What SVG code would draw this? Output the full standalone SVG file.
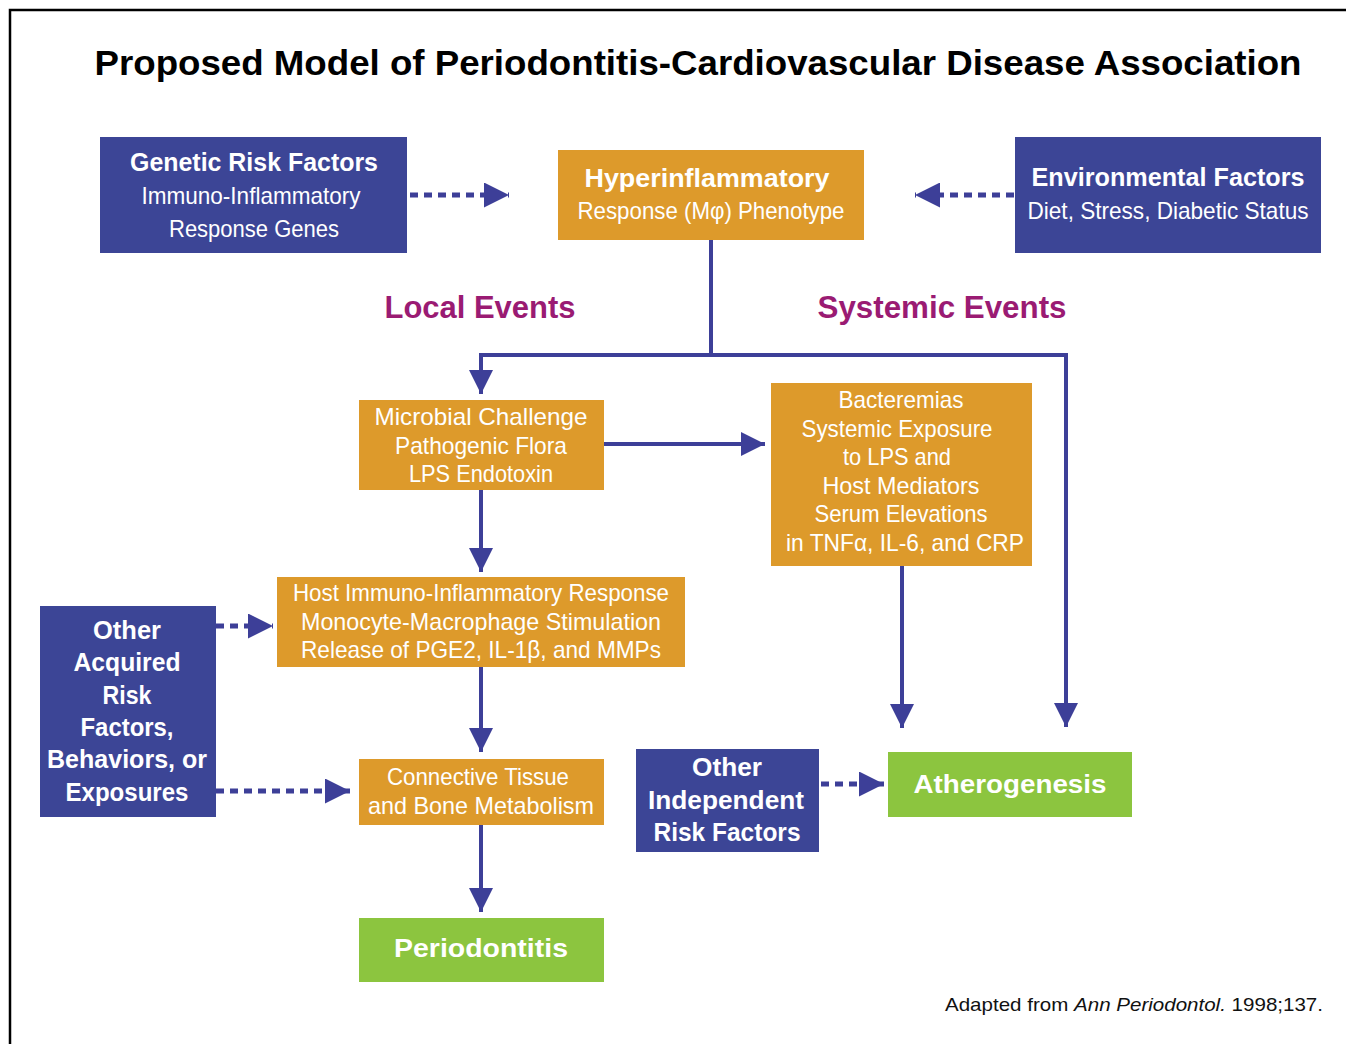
<svg xmlns="http://www.w3.org/2000/svg" width="1346" height="1044" viewBox="0 0 1346 1044">
<style>
.blue{fill:#3c4596}
.orange{fill:#dd9a2b}
.green{fill:#8cc53f}
text{font-family:"Liberation Sans",Arial,sans-serif;fill:#fff;text-anchor:middle}
.b{font-weight:bold}
.t{font-size:24px}
.h{font-size:25px;font-weight:bold}
.ev{fill:#9a1b73;font-size:31px;font-weight:bold}
.ln{stroke:#3d3f98;stroke-width:4;fill:none}
.ds{stroke:#3d3f98;stroke-width:5;fill:none;stroke-dasharray:8 6}
</style>
<defs>
<marker id="ah" viewBox="0 0 10 10" refX="10" refY="5" markerWidth="6" markerHeight="6" markerUnits="strokeWidth" orient="auto">
<path d="M0,0 L10,5 L0,10 Z" fill="#3d3f98"/>
</marker>
<marker id="ahd" viewBox="0 0 10 10" refX="10" refY="5" markerWidth="5" markerHeight="5" markerUnits="strokeWidth" orient="auto">
<path d="M0,0 L10,5 L0,10 Z" fill="#3d3f98"/>
</marker>
</defs>
<rect x="10" y="10" width="1350" height="1050" fill="#fff" stroke="#000" stroke-width="2.5"/>
<text x="698" y="75" style="fill:#000;font-size:35px;font-weight:bold" textLength="1207" lengthAdjust="spacingAndGlyphs">Proposed Model of Periodontitis-Cardiovascular Disease Association</text>
<text class="ev" x="480" y="318" textLength="191" lengthAdjust="spacingAndGlyphs">Local Events</text>
<text class="ev" x="942" y="318" textLength="249" lengthAdjust="spacingAndGlyphs">Systemic Events</text>

<g id="connectors">
<path class="ds" d="M410,195 H509" marker-end="url(#ahd)"/>
<path class="ds" d="M1014,195 H915" marker-end="url(#ahd)"/>
<path class="ln" d="M711,240 V355"/>
<path class="ln" d="M479,355 H1066"/>
<path class="ln" d="M481,355 V394" marker-end="url(#ah)"/>
<path class="ln" d="M1066,353 V727" marker-end="url(#ah)"/>
<path class="ln" d="M604,444 H765" marker-end="url(#ah)"/>
<path class="ln" d="M481,490 V572" marker-end="url(#ah)"/>
<path class="ln" d="M481,667 V752" marker-end="url(#ah)"/>
<path class="ln" d="M481,825 V912" marker-end="url(#ah)"/>
<path class="ln" d="M902,566 V728" marker-end="url(#ah)"/>
<path class="ds" d="M216,626 H273" marker-end="url(#ahd)"/>
<path class="ds" d="M216,791 H350" marker-end="url(#ahd)"/>
<path class="ds" d="M821,784 H884" marker-end="url(#ahd)"/>
</g>

<g id="genetic">
<rect class="blue" x="100" y="137" width="307" height="116"/>
<text class="h" x="254" y="171" textLength="248" lengthAdjust="spacingAndGlyphs">Genetic Risk Factors</text>
<text class="t" x="251" y="204" textLength="219" lengthAdjust="spacingAndGlyphs">Immuno-Inflammatory</text>
<text class="t" x="254" y="237" textLength="170" lengthAdjust="spacingAndGlyphs">Response Genes</text>
</g>
<g id="hyper">
<rect class="orange" x="558" y="150" width="306" height="90"/>
<text class="h" x="707" y="187" textLength="245" lengthAdjust="spacingAndGlyphs">Hyperinflammatory</text>
<text class="t" x="711" y="219" textLength="267" lengthAdjust="spacingAndGlyphs">Response (Mφ) Phenotype</text>
</g>
<g id="environmental">
<rect class="blue" x="1015" y="137" width="306" height="116"/>
<text class="h" x="1168" y="186" textLength="273" lengthAdjust="spacingAndGlyphs">Environmental Factors</text>
<text class="t" x="1168" y="219" textLength="281" lengthAdjust="spacingAndGlyphs">Diet, Stress, Diabetic Status</text>
</g>
<g id="microbial">
<rect class="orange" x="359" y="400" width="245" height="90"/>
<text class="t" x="481" y="425" textLength="213" lengthAdjust="spacingAndGlyphs">Microbial Challenge</text>
<text class="t" x="481" y="454" textLength="172" lengthAdjust="spacingAndGlyphs">Pathogenic Flora</text>
<text class="t" x="481" y="482" textLength="144" lengthAdjust="spacingAndGlyphs">LPS Endotoxin</text>
</g>
<g id="bacteremias">
<rect class="orange" x="771" y="383" width="261" height="183"/>
<text class="t" x="901" y="408" textLength="125" lengthAdjust="spacingAndGlyphs">Bacteremias</text>
<text class="t" x="897" y="437" textLength="191" lengthAdjust="spacingAndGlyphs">Systemic Exposure</text>
<text class="t" x="897" y="465" textLength="108" lengthAdjust="spacingAndGlyphs">to LPS and</text>
<text class="t" x="901" y="494" textLength="157" lengthAdjust="spacingAndGlyphs">Host Mediators</text>
<text class="t" x="901" y="522" textLength="173" lengthAdjust="spacingAndGlyphs">Serum Elevations</text>
<text class="t" x="905" y="551" textLength="238" lengthAdjust="spacingAndGlyphs">in TNFα, IL-6, and CRP</text>
</g>
<g id="host">
<rect class="orange" x="277" y="577" width="408" height="90"/>
<text class="t" x="481" y="601" textLength="376" lengthAdjust="spacingAndGlyphs">Host Immuno-Inflammatory Response</text>
<text class="t" x="481" y="630" textLength="360" lengthAdjust="spacingAndGlyphs">Monocyte-Macrophage Stimulation</text>
<text class="t" x="481" y="658" textLength="360" lengthAdjust="spacingAndGlyphs">Release of PGE2, IL-1β, and MMPs</text>
</g>
<g id="connective">
<rect class="orange" x="359" y="759" width="245" height="66"/>
<text class="t" x="478" y="785" textLength="182" lengthAdjust="spacingAndGlyphs">Connective Tissue</text>
<text class="t" x="481" y="814" textLength="226" lengthAdjust="spacingAndGlyphs">and Bone Metabolism</text>
</g>
<g id="periodontitis">
<rect class="green" x="359" y="918" width="245" height="64"/>
<text class="h" x="481" y="957" textLength="174" lengthAdjust="spacingAndGlyphs">Periodontitis</text>
</g>
<g id="acquired">
<rect class="blue" x="40" y="606" width="176" height="211"/>
<text class="h" x="127" y="639" textLength="68" lengthAdjust="spacingAndGlyphs">Other</text>
<text class="h" x="127" y="671" textLength="107" lengthAdjust="spacingAndGlyphs">Acquired</text>
<text class="h" x="127" y="704" textLength="49" lengthAdjust="spacingAndGlyphs">Risk</text>
<text class="h" x="127" y="736" textLength="93" lengthAdjust="spacingAndGlyphs">Factors,</text>
<text class="h" x="127" y="768" textLength="160" lengthAdjust="spacingAndGlyphs">Behaviors, or</text>
<text class="h" x="127" y="801" textLength="123" lengthAdjust="spacingAndGlyphs">Exposures</text>
</g>
<g id="independent">
<rect class="blue" x="636" y="749" width="183" height="103"/>
<text class="h" x="727" y="776" textLength="70" lengthAdjust="spacingAndGlyphs">Other</text>
<text class="h" x="726" y="809" textLength="156" lengthAdjust="spacingAndGlyphs">Independent</text>
<text class="h" x="727" y="841" textLength="147" lengthAdjust="spacingAndGlyphs">Risk Factors</text>
</g>
<g id="atherogenesis">
<rect class="green" x="888" y="752" width="244" height="65"/>
<text class="h" x="1010" y="793" textLength="193" lengthAdjust="spacingAndGlyphs">Atherogenesis</text>
</g>
<text x="1134" y="1011" style="fill:#111;font-size:19px" textLength="378" lengthAdjust="spacingAndGlyphs">Adapted from <tspan font-style="italic">Ann Periodontol.</tspan> 1998;137.</text>
</svg>
